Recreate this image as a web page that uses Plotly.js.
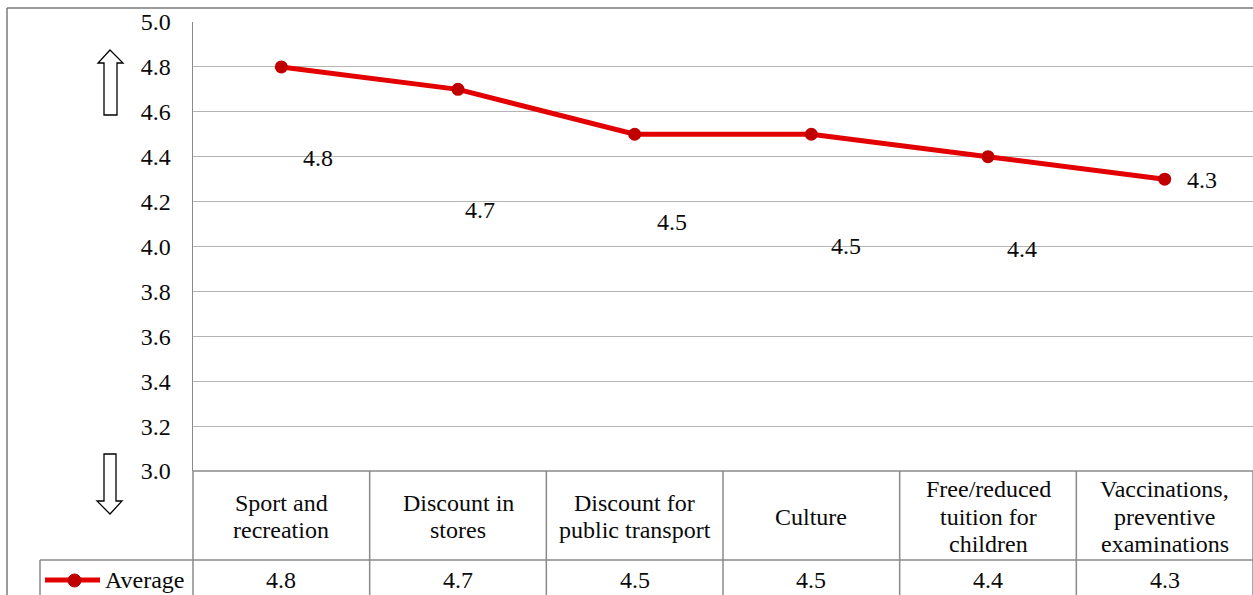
<!DOCTYPE html>
<html>
<head>
<meta charset="utf-8">
<script src="https://cdn.plot.ly/plotly-3.0.1.min.js"></script>
<style>html,body{margin:0;padding:0;background:#fff;}#chart{width:1253px;height:595px;}</style>
</head>
<body>
<div id="chart"></div>
<script>
// ---- data ----
const categories = [
  "Sport and<br>recreation",
  "Discount in<br>stores",
  "Discount for<br>public transport",
  "Culture",
  "Free/reduced<br>tuition for<br>children",
  "Vaccinations,<br>preventive<br>examinations"
];
const seriesName = "Average";
const averageValues = [4.8, 4.7, 4.5, 4.5, 4.4, 4.3];
const yTickValues = [3.0, 3.2, 3.4, 3.6, 3.8, 4.0, 4.2, 4.4, 4.6, 4.8, 5.0];

// ---- label placement offsets (pixels, styling only; positive dy = downward) ----
const labelDx = [37, 22, 37, 35, 34, 37];
const labelDy = [91, 121, 88, 112, 92, 1];

// ---- geometry helpers (layout) ----
const W = 1253, H = 595;
const L = 193, T = 22, PB = 471, PR = 1253;
const pw = PR - L, ph = PB - T;
const px = x => (x - L) / pw;
const py = y => (PB - y) / ph;

const FONT = "Liberation Serif";
const FS = 24;
const LINE_GAP = 27.5;
const GRAY = "#8a8a8a";
const TXT = "#0a0a0a";
const xIdx = categories.map((_, i) => i);

const trace = {
  x: xIdx,
  y: averageValues,
  type: "scatter",
  mode: "lines+markers",
  name: seriesName,
  line: {color: "#e30000", width: 5},
  marker: {color: "#c00000", size: 13},
  showlegend: false,
  hoverinfo: "y"
};

const shapes = [];
const annotations = [];
function hline(x0, x1, y, color, w) {
  shapes.push({type: "line", xref: "paper", yref: "paper", x0: px(x0), x1: px(x1), y0: py(y), y1: py(y),
    line: {color: color || GRAY, width: w || 1.5}, layer: "above"});
}
function vline(x, y0, y1, color, w) {
  shapes.push({type: "line", xref: "paper", yref: "paper", x0: px(x), x1: px(x), y0: py(y0), y1: py(y1),
    line: {color: color || GRAY, width: w || 1.5}, layer: "above"});
}

// outer chart border (left and top)
hline(7, 1253, 8, "#7a7a7a", 1.5);
vline(7, 8, 595, "#7a7a7a", 1.5);

// data table lines
const colW = pw / categories.length;
hline(L, 1253, PB);
hline(40, 1253, 560);
vline(40, 560, 600);
for (let i = 0; i <= categories.length; i++) {
  vline(L + i * colW, PB, 600);
}

// category header texts (one annotation per line for tight spacing) and value row
categories.forEach((c, i) => {
  const parts = c.split("<br>");
  const center = 516.5;
  parts.forEach((p, k) => {
    const yc = center + (k - (parts.length - 1) / 2) * LINE_GAP;
    annotations.push({x: i, y: py(yc), xref: "x", yref: "paper", text: p, showarrow: false,
      font: {family: FONT, size: FS, color: TXT}, xanchor: "center", yanchor: "middle"});
  });
  annotations.push({x: i, y: py(580), xref: "x", yref: "paper", text: averageValues[i].toFixed(1), showarrow: false,
    font: {family: FONT, size: FS, color: TXT}, xanchor: "center", yanchor: "middle"});
});

// data labels
averageValues.forEach((v, i) => {
  annotations.push({x: i, y: v, xref: "x", yref: "y", text: v.toFixed(1), showarrow: false,
    xshift: labelDx[i], yshift: -labelDy[i],
    font: {family: FONT, size: FS, color: TXT}, xanchor: "center", yanchor: "middle"});
});

// legend key in table
shapes.push({type: "line", xref: "paper", yref: "paper", x0: px(45), x1: px(100), y0: py(580), y1: py(580),
  line: {color: "#e30000", width: 5}, layer: "above"});
shapes.push({type: "circle", xref: "paper", yref: "paper", x0: px(68), x1: px(81), y0: py(574), y1: py(587),
  fillcolor: "#c00000", line: {color: "#c00000", width: 1}, layer: "above"});
annotations.push({x: px(103), y: py(580), xref: "paper", yref: "paper", text: seriesName, showarrow: false,
  font: {family: FONT, size: FS, color: TXT}, xanchor: "left", yanchor: "middle"});

// hollow arrows
function pathFrom(pts) {
  return "M " + pts.map(p => px(p[0]) + "," + py(p[1])).join(" L ") + " Z";
}
const upArrow = [[110,50],[123,63],[117,63],[117,115],[104,115],[104,63],[98,63]];
const downArrow = [[104,454],[116,454],[116,501],[122,501],[110,514],[97,501],[104,501]];
[upArrow, downArrow].forEach(a => {
  shapes.push({type: "path", xref: "paper", yref: "paper", path: pathFrom(a),
    fillcolor: "rgba(255,255,255,0)", line: {color: "#000", width: 1.3}, layer: "above"});
});

const layout = {
  width: W, height: H,
  margin: {l: L, r: W - PR, t: T, b: H - PB, pad: 0},
  paper_bgcolor: "#fff", plot_bgcolor: "#fff",
  font: {family: FONT, size: FS, color: TXT},
  showlegend: false,
  xaxis: {range: [-0.5, categories.length - 0.5], showgrid: false, zeroline: false,
    showticklabels: false, showline: false, ticks: "", fixedrange: true},
  yaxis: {range: [3, 5], tickvals: yTickValues, ticktext: yTickValues.map(v => v.toFixed(1)),
    showgrid: true, gridcolor: "#b4b4b4", gridwidth: 1, zeroline: false,
    showline: true, linecolor: GRAY, linewidth: 1.5, ticks: "", ticklabelstandoff: 16,
    tickfont: {family: FONT, size: FS, color: TXT}, fixedrange: true},
  shapes: shapes,
  annotations: annotations
};

Plotly.newPlot("chart", [trace], layout, {displayModeBar: false, staticPlot: true});
</script>
</body>
</html>
